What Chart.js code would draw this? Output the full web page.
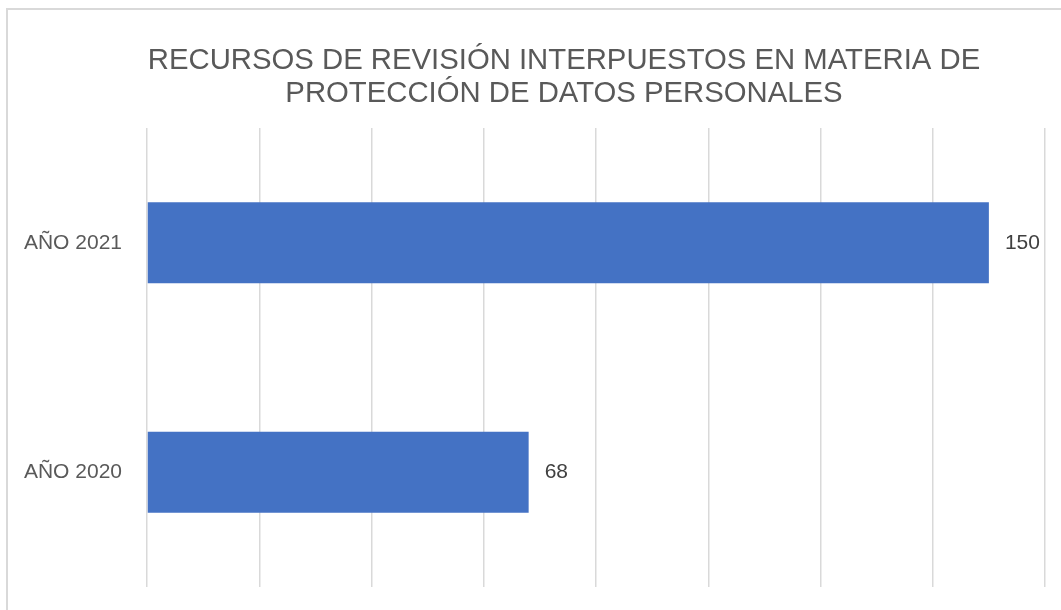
<!DOCTYPE html>
<html>
<head>
<meta charset="utf-8">
<script src="https://cdn.jsdelivr.net/npm/chart.js@4/dist/chart.umd.min.js"></script>
<style>
  html, body { margin: 0; padding: 0; background: #fff; }
  #wrap { width: 1061px; height: 610px; position: relative; }
</style>
</head>
<body>
<div id="wrap"><canvas id="myChart" width="1061" height="610"></canvas></div>
<script>
let categories = ['AÑO 2021', 'AÑO 2020'];
let values = [150, 68];
let titleLines = ['RECURSOS DE REVISIÓN INTERPUESTOS EN MATERIA DE', 'PROTECCIÓN DE DATOS PERSONALES'];
let axisMax = 160;
let axisStep = 20;

let textColor = '#595959';
let fontFamily = '"Liberation Sans", Arial, sans-serif';

// frame + title, drawn by hand so the title sits where the original puts it
let framePlugin = {
    id: 'frame',
    beforeDraw: function(chart){
        let ctx = chart.ctx;
        ctx.save();
        ctx.fillStyle = '#ffffff';
        ctx.fillRect(0, 0, chart.width, chart.height);
        ctx.strokeStyle = '#d9d9d9';
        ctx.lineWidth = 2;
        ctx.strokeRect(7, 9, chart.width + 20, chart.height + 20);
        ctx.fillStyle = textColor;
        ctx.font = '29.3px ' + fontFamily;
        ctx.textAlign = 'center';
        ctx.textBaseline = 'alphabetic';
        ctx.fillText(titleLines[0], 564, 69);
        ctx.fillText(titleLines[1], 564, 102);
        ctx.restore();
    }
};

// value labels next to each bar end
let valueLabels = {
    id: 'valueLabels',
    afterDatasetsDraw: function(chart){
        let ctx = chart.ctx;
        let meta = chart.getDatasetMeta(0);
        ctx.save();
        ctx.fillStyle = '#404040';
        ctx.font = '21px ' + fontFamily;
        ctx.textAlign = 'left';
        ctx.textBaseline = 'middle';
        meta.data.forEach(function(bar, i){
            ctx.fillText(values[i], bar.x + 16, bar.y);
        });
        ctx.restore();
    }
};

let ctx = document.getElementById('myChart').getContext('2d');
let myChart = new Chart(ctx, {
    type: 'bar',
    data: {
        labels: categories,
        datasets: [{
            data: values,
            backgroundColor: '#4472C4',
            borderWidth: 0,
            categoryPercentage: 1,
            barPercentage: 0.353
        }]
    },
    options: {
        indexAxis: 'y',
        responsive: false,
        animation: false,
        layout: {
            padding: { left: 0, right: 16, top: 128, bottom: 23 }
        },
        plugins: {
            legend: { display: false },
            title: { display: false },
            tooltip: { enabled: false }
        },
        scales: {
            x: {
                min: 0,
                max: axisMax,
                ticks: { display: false, stepSize: axisStep },
                grid: { color: '#d9d9d9', lineWidth: 1.5, drawTicks: false },
                border: { display: false },
                afterFit: function(scale){ scale.height = 0; }
            },
            y: {
                ticks: {
                    color: textColor,
                    font: { family: fontFamily, size: 21 },
                    padding: 17
                },
                grid: { display: false },
                border: { display: false },
                afterFit: function(scale){
                    scale.width = 147;
                    scale.paddingTop = 0;
                    scale.paddingBottom = 0;
                }
            }
        }
    },
    plugins: [framePlugin, valueLabels]
});
</script>
</body>
</html>
